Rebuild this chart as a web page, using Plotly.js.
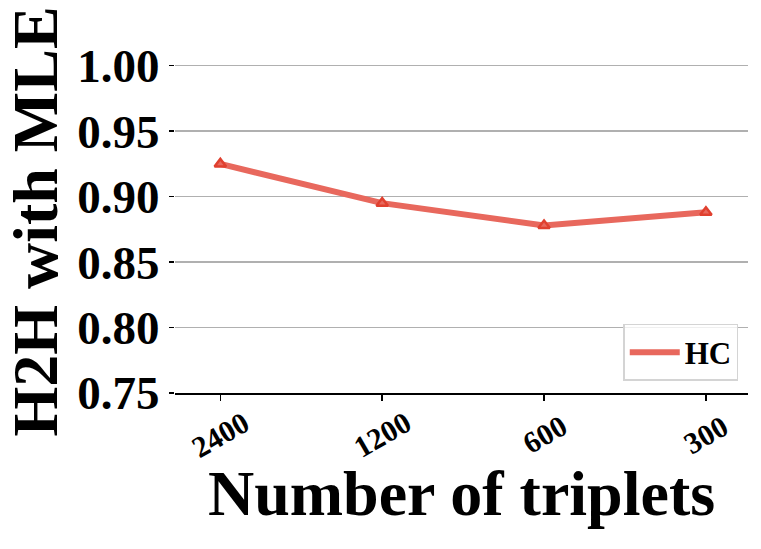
<!DOCTYPE html>
<html>
<head>
<meta charset="utf-8">
<script src="https://cdn.plot.ly/plotly-3.0.1.min.js"></script>
<style>
  html, body { margin: 0; padding: 0; background: #fff; }
  #chart { width: 761px; height: 549px; }
</style>
</head>
<body>
<div id="chart"></div>
<script>
// H2H with MLE vs number of triplets

const triplets = ['2400', '1200', '600', '300'];
const hcValues = [0.925, 0.895, 0.878, 0.888];
const yTicks = [0.75, 0.80, 0.85, 0.90, 0.95, 1.00];
const yTickText = ['0.75', '0.80', '0.85', '0.90', '0.95', '1.00'];

const FONT = '"Liberation Serif", "DejaVu Serif", serif';
const xPos = triplets.map((_, i) => i);

const lineTrace = {
  type: 'scatter',
  mode: 'lines',
  x: xPos,
  y: hcValues,
  name: '<b>HC</b>',
  line: { color: '#e8685d', width: 6 },
};

const markerTrace = {
  type: 'scatter',
  mode: 'markers',
  x: xPos,
  y: hcValues,
  showlegend: false,
  marker: { symbol: 'triangle-up', size: 10, color: '#e8685d', line: { color: '#e0402f', width: 2.5 } },
};

// rotated tick labels, centred under each tick like the original
const tickLabels = triplets.map((t, i) => ({
  xref: 'x', yref: 'paper',
  x: i, y: 0,
  yshift: -41,
  text: `<b>${t}</b>`,
  textangle: -30,
  showarrow: false,
  xanchor: 'center', yanchor: 'middle',
  font: { family: FONT, size: 30, color: '#000' },
}));

const layout = {
  width: 761,
  height: 549,
  margin: { l: 175, r: 13, t: 50, b: 156 },
  paper_bgcolor: '#fff',
  plot_bgcolor: '#fff',
  font: { family: FONT, color: '#000' },
  showlegend: true,
  legend: {
    x: 0.983, y: 0.035, xanchor: 'right', yanchor: 'bottom',
    bgcolor: 'rgba(255,255,255,0.8)', bordercolor: '#d4d4d4', borderwidth: 1.5,
    font: { family: FONT, size: 31, color: '#000' },
    itemwidth: 50,
  },
  annotations: tickLabels,
  xaxis: {
    range: [-0.28, 3.26],
    tickvals: xPos,
    showticklabels: false,
    ticks: 'outside', ticklen: 6, tickwidth: 1.5, tickcolor: '#000',
    showgrid: false, zeroline: false,
    showline: true, linecolor: '#000', linewidth: 1.5,
    title: { text: '<b>Number of triplets</b>', font: { family: FONT, size: 64 }, standoff: 70 },
  },
  yaxis: {
    range: [0.75, 1.012],
    tickvals: yTicks,
    ticktext: yTickText.map((t) => `<b>${t}</b>`),
    tickfont: { family: FONT, size: 47 },
    ticks: 'outside', ticklen: 5, tickwidth: 1.5, tickcolor: '#000',
    showgrid: true, gridcolor: '#b0b0b0', gridwidth: 1.5,
    zeroline: false, showline: false,
    title: { text: '<b>H2H with MLE</b>', font: { family: FONT, size: 64 }, standoff: 8 },
  },
};

Plotly.newPlot('chart', [lineTrace, markerTrace], layout, { displayModeBar: false, staticPlot: true });
</script>
</body>
</html>
